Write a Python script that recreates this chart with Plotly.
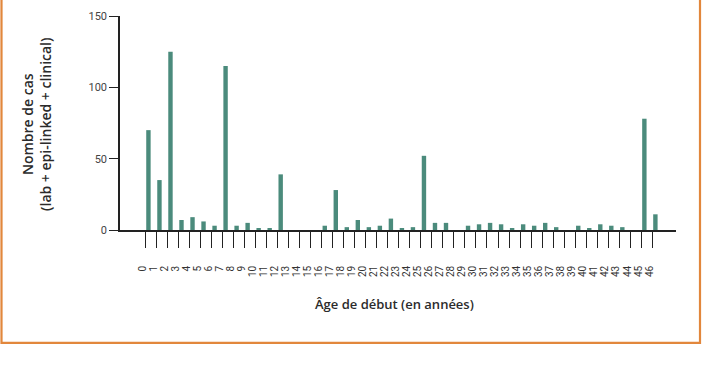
import plotly.graph_objects as go

ages = list(range(0, 47))
age_labels = [str(a) for a in ages]
cases = [70, 35, 125, 7, 9, 6, 3, 115, 3, 5, 1, 1, 39, 0, 0, 0, 3, 28, 2, 7,
         2, 3, 8, 1, 2, 52, 5, 5, 0, 3, 4, 5, 4, 1, 4, 3, 5, 2, 0, 3,
         1, 4, 3, 2, 0, 78, 11]
y_ticks = [0, 50, 100, 150]

W, H = 702, 370
L, R, T, B = 120, 26, 10, 140
pw, ph = W - L - R, H - T - B

def px_x(p):
    return (p - L) / pw

def px_y(p):
    return (H - B - p) / ph

fig = go.Figure()
fig.add_trace(go.Bar(
    x=ages, y=cases, width=0.4, offset=0.08,
    marker=dict(color="#4B8B7C", line=dict(width=0)),
    hoverinfo="x+y",
))

x_title_font = dict(family="Open Sans, sans-serif", size=13, color="#2b2b2b", weight=600)
y_title_font = dict(family="Open Sans, sans-serif", size=14, color="#2b2b2b", weight=600)

fig.update_layout(
    width=W, height=H,
    margin=dict(l=L, r=R, t=T, b=B),
    paper_bgcolor="white", plot_bgcolor="white",
    showlegend=False,
    font=dict(family="Roboto, sans-serif", color="#333333"),
    xaxis=dict(
        range=[-2.3, 48.15],
        tickmode="array", tickvals=ages, ticktext=age_labels,
        tickangle=-90,
        ticks="outside", ticklen=16, tickwidth=1.3, tickcolor="#222222",
        tickfont=dict(size=10, color="#333333"),
        ticklabelstandoff=14, ticklabelshift=-3,
        showline=True, linecolor="#222222", linewidth=1.5,
        showgrid=False, zeroline=False,
    ),
    yaxis=dict(
        range=[0, 150],
        tickmode="array", tickvals=y_ticks, ticktext=[str(v) for v in y_ticks],
        ticks="outside", ticklen=9, tickwidth=1.3, tickcolor="#222222",
        tickfont=dict(size=11, color="#444444"),
        showline=True, linecolor="#222222", linewidth=1.5,
        showgrid=False, zeroline=False,
    ),
    annotations=[
        dict(text="Nombre de cas<br>(lab + epi-linked + clinical)",
             xref="paper", yref="paper", x=px_x(37), y=px_y(122),
             xanchor="center", yanchor="middle", textangle=-90,
             showarrow=False, font=y_title_font),
        dict(text="Âge de début (en années)",
             xref="paper", yref="paper", x=px_x(394), y=px_y(306),
             xanchor="center", yanchor="middle",
             showarrow=False, font=x_title_font),
    ],
    shapes=[
        dict(type="rect", xref="paper", yref="paper",
             x0=px_x(1.5), x1=px_x(700), y0=px_y(346), y1=px_y(-20),
             line=dict(color="#E2873C", width=2.2), fillcolor="rgba(0,0,0,0)",
             layer="below"),
    ],
)

fig.write_html("out.html", config={"displayModeBar": False},
               post_script="document.body.style.margin='0';document.body.style.padding='0';")
